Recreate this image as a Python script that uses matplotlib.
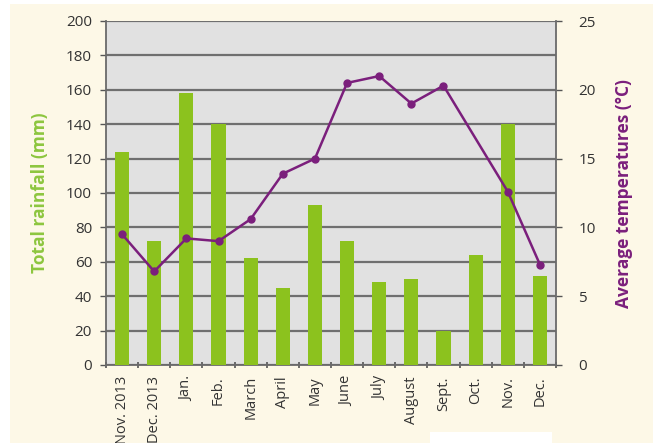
import numpy as np
import matplotlib.pyplot as plt
from matplotlib.patches import Rectangle

months = ['Nov. 2013', 'Dec. 2013', 'Jan.', 'Feb.', 'March', 'April', 'May',
          'June', 'July', 'August', 'Sept.', 'Oct.', 'Nov.', 'Dec.']
rainfall = [124, 72, 158, 140, 62, 45, 93, 72, 48, 50, 20, 64, 140, 52]
# no marker for Oct. in the original, the line runs straight Sept. -> Nov.
temperature = [9.5, 6.8, 9.2, 9.0, 10.6, 13.9, 15.0, 20.5, 21.0, 19.0, 20.3,
               np.nan, 12.6, 7.3]

green = '#8cc21e'
purple = '#7b1f7c'
cream = '#fdf8e7'

plt.rcParams['font.family'] = ['Open Sans', 'DejaVu Sans']

fig = plt.figure(figsize=(6.57, 4.43), dpi=100)
fig.patch.set_facecolor('white')
fig.patches.append(Rectangle((10 / 657, 0), 643 / 657, 1 - 4 / 443,
                             transform=fig.transFigure, facecolor=cream,
                             edgecolor='none', zorder=-10))
fig.patches.append(Rectangle((430 / 657, 0), 122 / 657, 11 / 443,
                             transform=fig.transFigure, facecolor='white',
                             edgecolor='none', zorder=-9))

ax = fig.add_axes([106 / 657, 1 - 365 / 443, 450 / 657, 344 / 443])
ax.set_facecolor('#e1e1e1')
x = np.arange(len(months))
ax.bar(x, rainfall, width=0.44, color=green, zorder=3)
ax.set_xlim(-0.5, len(months) - 0.5)
ax.set_ylim(0, 200)
ax.set_yticks(range(0, 201, 20))
ax.yaxis.grid(True, color='#6f6f6f', linewidth=1.6, zorder=0)
ax.set_axisbelow(True)
ax.set_xticks(x)
ax.set_xticklabels(months, rotation=90, fontsize=10.5, color='#333333')
ax.set_xticks(np.arange(-0.5, len(months)), minor=True)
ax.tick_params(axis='x', which='major', length=0, pad=8)
ax.tick_params(axis='x', which='minor', length=5, width=1.2, color='#555555',
               direction='inout')
ax.tick_params(axis='y', length=4, width=1, color='#555555', labelsize=11,
               labelcolor='#333333', pad=6)
for s in ['top', 'right']:
    ax.spines[s].set_visible(False)
for s in ['left', 'bottom']:
    ax.spines[s].set_color('#6a6a6a')
    ax.spines[s].set_linewidth(1.3)
ax.set_ylabel('Total rainfall (mm)', color='#8dc63f', fontsize=12.5,
              fontweight='bold', labelpad=12)

ax2 = ax.twinx()
temp = np.array(temperature)
ok = ~np.isnan(temp)
ax2.plot(x[ok], temp[ok], color=purple, linewidth=1.8, marker='o',
         markersize=5, zorder=4)
ax2.set_ylim(0, 25)
ax2.set_yticks(range(0, 26, 5))
ax2.tick_params(axis='y', length=4, width=1, color='#555555', labelsize=11,
                labelcolor='#333333', pad=12)
for s in ['top', 'left', 'bottom']:
    ax2.spines[s].set_visible(False)
ax2.spines['right'].set_color('#6a6a6a')
ax2.spines['right'].set_linewidth(1.3)
ax2.set_ylabel('Average temperatures (°C)', color=purple, fontsize=12.5,
               fontweight='bold', labelpad=14)

fig.savefig('out.png', dpi=100)
